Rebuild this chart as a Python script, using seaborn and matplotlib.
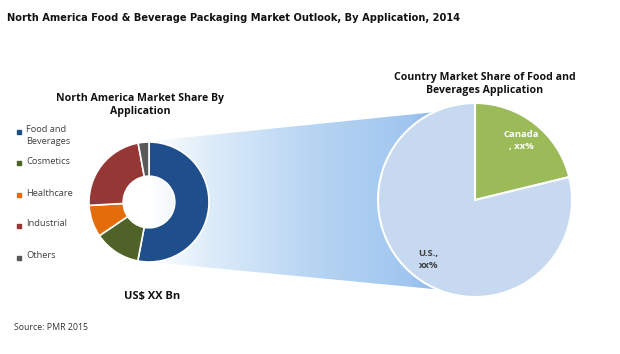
import numpy as np
import pandas as pd
import matplotlib
matplotlib.use("Agg")
import matplotlib.pyplot as plt
from matplotlib.colors import LinearSegmentedColormap
from matplotlib.patches import Polygon
import seaborn as sns

# data
applications = ["Food and\nBeverages", "Cosmetics", "Healthcare", "Industrial", "Others"]
app_share = [53.0, 12.5, 8.6, 23.0, 2.9]
app_colors = ["#1F4E8C", "#4F6228", "#E46C0A", "#953735", "#595959"]

countries = ["Canada\n, xx%", "U.S.,\nxx%"]
country_share = [21.2, 78.8]
country_colors = ["#9BBB59", "#C6D9F1"]

df_app = pd.DataFrame({"Application": applications, "Share": app_share})
df_cty = pd.DataFrame({"Country": countries, "Share": country_share})

sns.set_theme(style="white")
plt.rcParams["font.family"] = ["Open Sans", "DejaVu Sans"]

W, H = 620, 354
fig = plt.figure(figsize=(W / 100, H / 100), dpi=100)

# background layer in pixel units: title, gradient, legend, notes
bg = fig.add_axes([0, 0, 1, 1])
bg.set_xlim(0, W)
bg.set_ylim(H, 0)
bg.axis("off")

cmap = LinearSegmentedColormap.from_list(
    "fade", [(0.0, "#FFFFFF"), (0.207, "#DDECF9"), (0.552, "#B8D5F3"),
             (0.897, "#A0C6EF"), (1.0, "#88B6E8")])
grad = np.linspace(0, 1, 256).reshape(1, -1)
img = bg.imshow(grad, cmap=cmap, extent=(150, 440, 295, 105), aspect="auto", zorder=1)
poly = Polygon([(150, 141), (475, 108), (475, 293), (150, 262)], closed=True,
               transform=bg.transData, facecolor="none", edgecolor="none")
bg.add_patch(poly)
img.set_clip_path(poly)

bg.text(7, 18, "North America Food & Beverage Packaging Market Outlook, By Application, 2014",
        fontsize=7.15, fontweight="bold", family="DejaVu Sans", color="#111111", va="center")
bg.text(140, 105, "North America Market Share By\nApplication", fontsize=7.6,
        fontweight="bold", ha="center", va="center", linespacing=1.15, color="#111111")
bg.text(485, 84, "Country Market Share of Food and\nBeverages Application", fontsize=7.6,
        fontweight="bold", ha="center", va="center", linespacing=1.15, color="#111111")
bg.text(152, 296, "US$ XX Bn", fontsize=8, fontweight="bold", ha="center", va="center",
        color="#111111")
bg.text(14, 328, "Source: PMR 2015", fontsize=6.3, va="center", color="#333333")

# legend, drawn by hand like the spreadsheet one
legend_y = [132, 163, 195, 226, 258]
for lab, col, y in zip(df_app["Application"], app_colors, legend_y):
    bg.scatter([19], [y], marker="s", s=9, color=col, zorder=3)
    bg.text(26, y - 6.5, lab, fontsize=6.7, color="#404040", va="top", ha="left",
            linespacing=1.35)

# donut
ax1 = fig.add_axes([(149 - 60) / W, (H - 202 - 60) / H, 120 / W, 120 / H])
ax1.pie(df_app["Share"], colors=app_colors, startangle=90, counterclock=False,
        wedgeprops=dict(width=0.57, edgecolor="white", linewidth=1.2))
ax1.set_xlim(-1, 1)
ax1.set_ylim(-1, 1)
ax1.patch.set_alpha(0)

# pie of the food and beverages slice
ax2 = fig.add_axes([(475 - 97) / W, (H - 200 - 97) / H, 194 / W, 194 / H])
wedges, texts = ax2.pie(df_cty["Share"], colors=country_colors, startangle=90,
                        counterclock=False, labels=df_cty["Country"], labeldistance=0.78,
                        wedgeprops=dict(edgecolor="white", linewidth=1.5))
ax2.set_xlim(-1, 1)
ax2.set_ylim(-1, 1)
ax2.patch.set_alpha(0)
for t, c in zip(texts, ["white", "#404040"]):
    t.set_ha("center")
    t.set_va("center")
    t.set_fontsize(6.8)
    t.set_fontweight("bold")
    t.set_color(c)
    t.set_linespacing(1.4)

fig.savefig("out.png", dpi=100, facecolor="white")
